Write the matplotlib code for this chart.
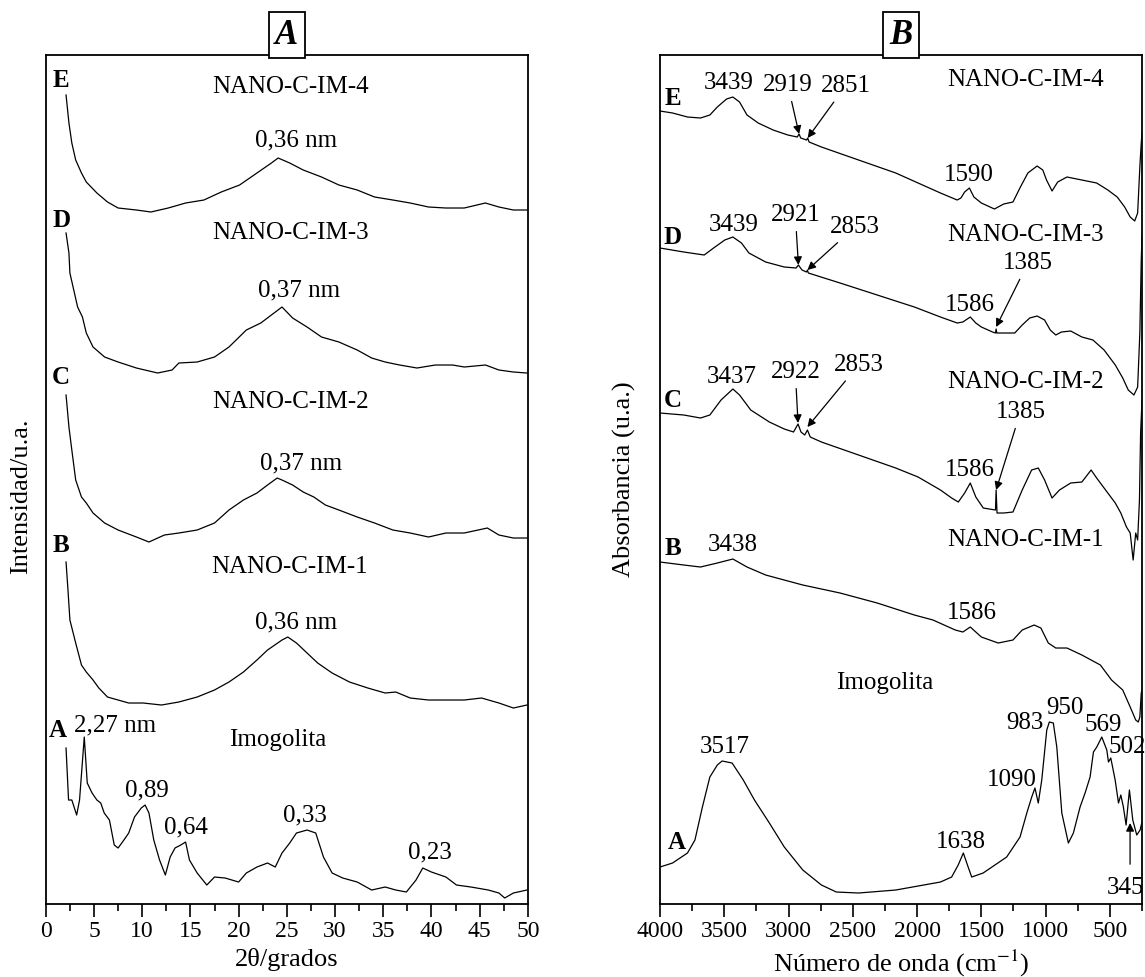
import matplotlib
matplotlib.use('Agg')
import matplotlib.pyplot as plt
from matplotlib.ticker import MultipleLocator

plt.rcParams['font.family'] = ['Liberation Serif', 'DejaVu Serif']
plt.rcParams['mathtext.fontset'] = 'stix'

# ---- A: DRX (2theta, intensidad apilada en u.a.) ----
xrd_A_x = [2.1, 2.36, 2.7, 3.2, 3.5, 3.99, 4.3, 4.8, 5.3, 5.7, 6.06, 6.6, 7.1, 7.5, 8.1, 8.6, 9.2, 9.9,
           10.3, 10.7, 11.2, 11.8, 12.4, 12.9, 13.4, 14.0, 14.5, 14.9, 15.7, 16.7, 17.5, 18.6, 20.0,
           20.8, 21.9, 23.0, 23.8, 24.5, 25.3, 26.0, 27.1, 28.0, 28.8, 29.7, 30.8, 32.3, 33.8, 35.2,
           36.3, 37.4, 38.4, 39.1, 40.0, 41.5, 42.6, 44.1, 45.9, 47.0, 47.6, 48.5, 49.9]
xrd_A_y = [156, 104, 104, 89, 104, 167, 121, 111, 104, 101, 91, 84, 59, 56, 64, 71, 87, 96,
           99, 91, 64, 44, 29, 47, 56, 59, 62, 44, 31, 19, 27, 26, 22,
           31, 37, 41, 37, 51, 61, 71, 74, 71, 47, 31, 26, 22, 14, 17,
           14, 12, 24, 36, 32, 27, 19, 17, 14, 11, 6, 11, 14]

xrd_B_x = [2.1, 2.3, 2.5, 3.1, 3.7, 4.2, 4.9, 5.5, 6.4, 7.5, 8.6, 10.1, 12.0, 13.8, 15.7, 17.5, 19.0,
           20.5, 21.9, 23.0, 24.5, 25.1, 26.0, 27.1, 28.2, 29.7, 31.5, 33.4, 35.2, 36.3, 37.8,
           39.7, 41.5, 43.4, 45.2, 47.0, 48.5, 49.9]
xrd_B_y = [342, 314, 284, 261, 239, 232, 224, 216, 207, 204, 201, 201, 199, 202, 207, 214, 222,
           232, 244, 254, 264, 267, 261, 251, 241, 231, 222, 216, 211, 212, 206,
           204, 204, 204, 206, 201, 196, 199]

xrd_C_x = [2.1, 2.4, 2.7, 3.1, 3.7, 4.2, 4.9, 6.1, 7.5, 9.4, 10.7, 12.3, 13.8, 15.7, 17.5, 19.0,
           20.5, 21.9, 23.0, 24.0, 24.5, 25.6, 26.7, 27.8, 29.0, 30.4, 32.3, 34.1, 36.0, 37.8,
           39.7, 41.5, 43.4, 45.8, 47.0, 48.5, 49.9]
xrd_C_y = [509, 477, 454, 424, 407, 401, 391, 381, 374, 367, 362, 369, 371, 374, 381, 394,
           404, 411, 419, 426, 424, 419, 412, 407, 399, 394, 387, 381, 374, 371,
           367, 371, 371, 376, 369, 366, 366]

xrd_D_x = [2.1, 2.4, 2.5, 2.9, 3.3, 3.8, 4.2, 4.9, 6.1, 7.5, 9.4, 11.6, 13.1, 13.8, 15.7, 17.5,
           19.0, 20.8, 22.3, 23.4, 24.5, 25.6, 27.1, 28.6, 30.4, 32.3, 33.8, 35.2, 36.7, 38.5,
           40.4, 42.2, 43.4, 45.6, 47.0, 48.5, 49.9]
xrd_D_y = [671, 651, 631, 614, 597, 587, 571, 557, 547, 542, 536, 531, 534, 541, 542, 547,
           557, 574, 581, 589, 597, 586, 577, 567, 562, 554, 546, 542, 539, 536,
           539, 539, 537, 539, 534, 532, 531]

xrd_E_x = [2.1, 2.4, 2.7, 3.1, 3.7, 4.2, 5.3, 6.4, 7.5, 9.4, 10.9, 12.7, 14.5, 16.4, 18.2, 20.1,
           21.9, 23.4, 24.1, 25.3, 26.7, 28.6, 30.4, 32.3, 34.1, 36.0, 37.8, 39.7, 41.5, 43.4,
           45.6, 47.0, 48.5, 49.9]
xrd_E_y = [809, 781, 761, 744, 731, 722, 711, 702, 696, 694, 692, 696, 701, 704, 712, 719,
           731, 741, 746, 741, 734, 727, 719, 714, 707, 704, 701, 697, 696, 696,
           701, 697, 694, 694]

# ---- B: IR (numero de onda, absorbancia apilada en u.a.) ----
ir_A_x = [4000, 3902, 3786, 3728, 3670, 3612, 3554, 3517, 3439, 3352, 3265, 3149, 3033, 2889, 2744,
          2628, 2455, 2166, 1992, 1818, 1731, 1680, 1640, 1600, 1575, 1486, 1303, 1199, 1144, 1108,
          1083, 1057, 1030, 991, 971, 940, 913, 874, 823, 784, 732, 693, 654, 628, 602,
          563, 524, 511, 493, 459, 433, 415, 395, 374, 348, 322, 291, 265, 252]
ir_A_y = [37, 41, 51, 64, 97, 127, 139, 143, 141, 124, 104, 81, 57, 34, 19,
          12, 11, 14, 18, 22, 27, 39, 51, 36, 27, 31, 47, 67, 92, 107,
          116, 101, 124, 174, 182, 181, 157, 91, 61, 71, 97, 111, 127, 152, 157,
          167, 154, 142, 146, 124, 101, 109, 97, 79, 114, 84, 69, 74, 81]

ir_B_x = [4000, 3815, 3685, 3554, 3433, 3323, 3178, 2889, 2599, 2310, 2021, 1876, 1703, 1644, 1586,
          1500, 1369, 1254, 1182, 1089, 1037, 979, 921, 834, 718, 574, 487, 400, 342, 299,
          279, 267, 256, 250]
ir_B_y = [342, 339, 337, 341, 345, 337, 329, 319, 311, 301, 289, 284, 274, 272, 277,
          267, 261, 264, 274, 279, 276, 261, 256, 256, 249, 239, 224, 214, 197, 184,
          182, 187, 211, 214]

ir_C_x = [4000, 3815, 3685, 3612, 3525, 3433, 3381, 3294, 3149, 3033, 2961, 2926, 2903, 2874, 2853,
          2831, 2744, 2455, 2166, 1992, 1818, 1731, 1679, 1630, 1586, 1543, 1485, 1390, 1385, 1378,
          1326, 1254, 1182, 1109, 1057, 1008, 950, 892, 805, 718, 646, 603, 516, 458, 415,
          371, 342, 319, 299, 284, 270, 261, 250]
ir_C_y = [491, 489, 486, 489, 504, 515, 509, 494, 482, 475, 472, 480, 472, 469, 474,
          467, 462, 449, 436, 427, 414, 406, 402, 411, 421, 407, 396, 394, 414, 391,
          391, 392, 414, 434, 436, 424, 406, 414, 421, 422, 434, 426, 411, 401, 391,
          377, 371, 344, 371, 364, 404, 471, 504]

ir_D_x = [4000, 3815, 3656, 3583, 3496, 3433, 3366, 3308, 3178, 3033, 2941, 2923, 2895, 2860, 2853,
          2846, 2599, 2310, 2021, 1818, 1688, 1644, 1586, 1543, 1500, 1413, 1390, 1385, 1380, 1297,
          1240, 1182, 1124, 1066, 1008, 964, 921, 877, 805, 718, 632, 545, 458, 400, 357,
          313, 284, 267, 256, 250]
ir_D_y = [656, 652, 649, 656, 664, 667, 661, 651, 642, 637, 636, 639, 634, 632, 634,
          631, 621, 609, 597, 587, 581, 582, 587, 581, 577, 572, 571, 575, 571, 571,
          571, 579, 586, 588, 584, 574, 569, 572, 573, 567, 564, 554, 539, 526, 514,
          509, 517, 571, 644, 669]

ir_E_x = [4000, 3902, 3786, 3685, 3612, 3554, 3482, 3433, 3381, 3323, 3236, 3120, 3005, 2932, 2918,
          2905, 2860, 2851, 2840, 2744, 2455, 2166, 1992, 1818, 1688, 1659, 1630, 1593, 1558, 1500,
          1398, 1326, 1254, 1196, 1138, 1066, 1022, 993, 950, 906, 834, 718, 603, 516, 443,
          385, 342, 307, 284, 267, 256, 250]
ir_E_y = [793, 791, 787, 786, 789, 797, 805, 807, 802, 789, 781, 774, 769, 767, 770,
          766, 764, 766, 762, 757, 744, 731, 721, 711, 704, 706, 712, 716, 707, 701,
          695, 700, 702, 717, 731, 738, 734, 724, 713, 722, 727, 724, 721, 714, 707,
          697, 687, 683, 691, 737, 761, 771]

fs = 18
fig = plt.figure(figsize=(11.45, 9.77), dpi=100)
axA = fig.add_axes([0.040, 0.0747, 0.421, 0.869])
axB = fig.add_axes([0.5764, 0.0747, 0.421, 0.869])

# panel A
for xs, ys in [(xrd_A_x, xrd_A_y), (xrd_B_x, xrd_B_y), (xrd_C_x, xrd_C_y),
               (xrd_D_x, xrd_D_y), (xrd_E_x, xrd_E_y)]:
    axA.plot(xs, ys, color='black', lw=0.9)
axA.set_xlim(0, 50)
axA.set_ylim(0, 849)
axA.xaxis.set_major_locator(MultipleLocator(5))
axA.xaxis.set_minor_locator(MultipleLocator(2.5))
axA.set_xlabel('2θ/grados', fontsize=19)
axA.set_ylabel('Intensidad/u.a.', fontsize=19)
axA.yaxis.set_label_coords(-0.028, 0.48)

for lab, xx, yy in [('E', 1.6, 824), ('D', 1.6, 684), ('C', 1.6, 527), ('B', 1.6, 359), ('A', 1.25, 174)]:
    axA.text(xx, yy, lab, fontsize=fs, fontweight='bold', ha='center', va='center')
for lab, xx, yy in [('NANO-C-IM-4', 25.4, 817), ('0,36 nm', 26.0, 764),
                    ('NANO-C-IM-3', 25.4, 671), ('0,37 nm', 26.3, 614),
                    ('NANO-C-IM-2', 25.4, 502), ('0,37 nm', 26.5, 441),
                    ('NANO-C-IM-1', 25.3, 337), ('0,36 nm', 26.0, 282),
                    ('2,27 nm', 7.2, 179), ('Imogolita', 24.1, 164), ('0,89', 10.5, 114),
                    ('0,64', 14.5, 77), ('0,33', 26.9, 89), ('0,23', 39.8, 52)]:
    axA.text(xx, yy, lab, fontsize=fs, ha='center', va='center')

# panel B
for xs, ys in [(ir_A_x, ir_A_y), (ir_B_x, ir_B_y), (ir_C_x, ir_C_y),
               (ir_D_x, ir_D_y), (ir_E_x, ir_E_y)]:
    axB.plot(xs, ys, color='black', lw=0.9)
axB.set_xlim(4000, 250)
axB.set_ylim(0, 849)
axB.xaxis.set_major_locator(MultipleLocator(500))
axB.xaxis.set_minor_locator(MultipleLocator(250))
axB.set_xlabel('Número de onda (cm$^{-1}$)', fontsize=19)
axB.set_ylabel('Absorbancia (u.a.)', fontsize=19)
axB.yaxis.set_label_coords(-0.05, 0.5)

for lab, xx, yy in [('E', 3902, 806), ('D', 3902, 667), ('C', 3902, 504), ('B', 3902, 356), ('A', 3873, 62)]:
    axB.text(xx, yy, lab, fontsize=fs, fontweight='bold', ha='center', va='center')
for lab, xx, yy in [('3439', 3462, 821), ('NANO-C-IM-4', 1153, 824), ('1590', 1601, 729),
                    ('3439', 3424, 679), ('NANO-C-IM-3', 1153, 669), ('1586', 1586, 599),
                    ('3437', 3439, 527), ('NANO-C-IM-2', 1153, 522), ('1586', 1586, 434),
                    ('3438', 3433, 359), ('NANO-C-IM-1', 1153, 364), ('1586', 1572, 291),
                    ('Imogolita', 2252, 221), ('3517', 3497, 157), ('1638', 1659, 62),
                    ('1090', 1261, 124), ('983', 1160, 181), ('950', 849, 196),
                    ('569', 553, 179), ('502', 367, 157), ('345', 382, 16)]:
    axB.text(xx, yy, lab, fontsize=fs, ha='center', va='center', clip_on=False)

arrow = dict(arrowstyle='-|>', color='black', lw=0.9, mutation_scale=12, shrinkA=2, shrinkB=0)
for lab, tip, pos in [('2919', (2918, 770), (3005, 819)), ('2851', (2851, 766), (2557, 818)),
                      ('2921', (2923, 639), (2947, 689)), ('2853', (2853, 634), (2484, 677)),
                      ('1385', (1385, 577), (1138, 641)),
                      ('2922', (2926, 481), (2947, 532)), ('2853', (2853, 477), (2455, 539)),
                      ('1385', (1385, 414), (1196, 492))]:
    axB.annotate(lab, xy=tip, xytext=pos, fontsize=fs, ha='center', va='center', arrowprops=arrow)
axB.annotate('', xy=(343, 81), xytext=(343, 37), arrowprops=arrow)

for ax, name in [(axA, 'A'), (axB, 'B')]:
    ax.tick_params(axis='y', left=False, labelleft=False)
    ax.tick_params(axis='x', which='major', direction='out', length=9, width=1.2, labelsize=17, top=False)
    ax.tick_params(axis='x', which='minor', direction='out', length=5, width=1.2, top=False)
    for sp in ax.spines.values():
        sp.set_linewidth(1.3)
    ax.text(0.5, 1.004, name, transform=ax.transAxes, fontsize=25, fontweight='bold', style='italic',
            ha='center', va='bottom',
            bbox=dict(boxstyle='square,pad=0.18', fc='white', ec='black', lw=1.3))

plt.savefig('out.png', dpi=100)
